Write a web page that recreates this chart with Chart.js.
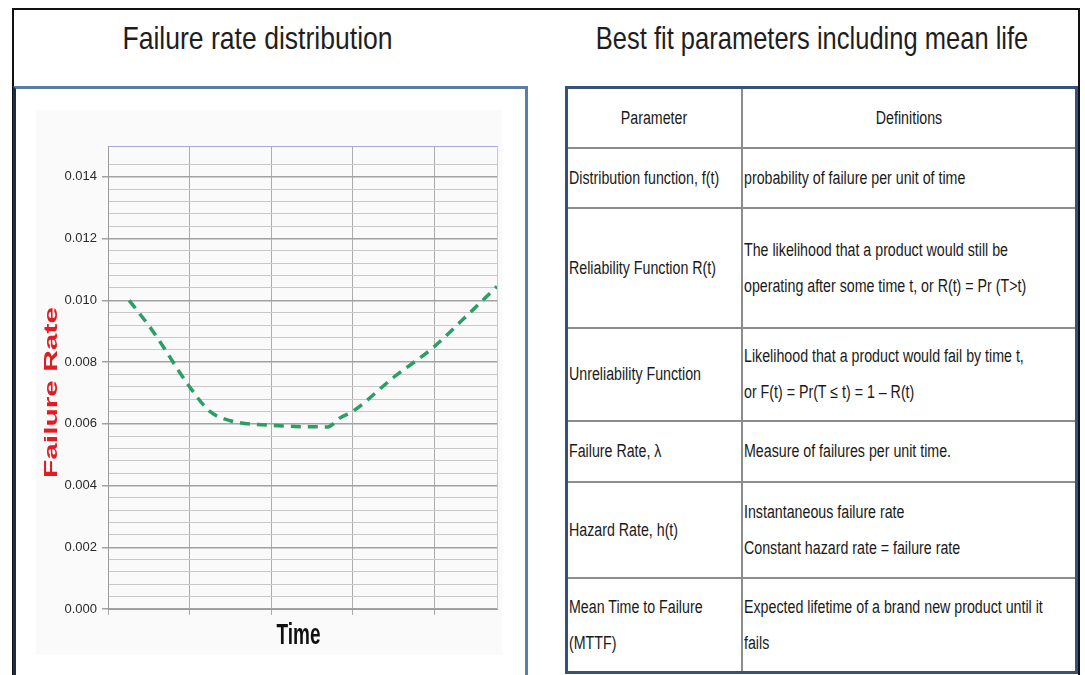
<!DOCTYPE html>
<html>
<head>
<meta charset="utf-8">
<script src="https://cdn.jsdelivr.net/npm/chart.js@4.4.0/dist/chart.umd.min.js"></script>
<style>
  body { margin:0; width:1085px; height:675px; background:#fff; overflow:hidden; position:relative;
         font-family:"Liberation Sans", Arial, sans-serif; color:#1e1e1e; }
  #frame { position:absolute; left:12px; top:8px; width:1064px; height:700px; border:2px solid #111; }
  .title { position:absolute; top:22px; font-size:32px; line-height:32px; text-align:center; white-space:nowrap;
           transform:scaleX(0.83); transform-origin:50% 50%; }
  #leftTitle { left:0px; width:515px; }
  #rightTitle { left:547px; width:513px; font-size:31.5px; transform:scaleX(0.81); }
  #chartPanel { position:absolute; left:13px; top:86px; width:509px; height:620px;
                border-top:3px solid #5b7ea6; border-right:3px solid #5b7ea6; border-left:3px solid #1d2b4c; }
  #chartBox { position:absolute; left:36px; top:110px; width:466px; height:545px; background:#fafafa; }
  #defs { position:absolute; left:565px; top:86px; width:513px; border-collapse:collapse; table-layout:fixed;
          border:3px solid #35537a; background:#fff; font-size:18px; }
  #defs td, #defs th { border:2px solid #8c8c8c; padding:0 1px; vertical-align:middle;
                       text-align:left; font-weight:normal; white-space:nowrap; overflow:visible; }
  #defs th { text-align:center; }
  #defs th:first-child { width:171px; }
  .n { display:inline-block; line-height:36px; transform:scaleX(0.79); transform-origin:0 50%; color:#1a1a1a; }
  #defs th .n { transform-origin:50% 50%; }
</style>
</head>
<body>
<div id="frame"></div>
<div class="title" id="leftTitle">Failure rate distribution</div>
<div class="title" id="rightTitle">Best fit parameters including mean life</div>
<div id="chartPanel"></div>
<div id="chartBox"><canvas id="rateChart"></canvas></div>
<table id="defs"></table>

<script>
// curve (time in grid units, failure rate)
const times = [0.26, 0.55, 1.0, 1.25, 1.5, 2.0, 2.69, 2.85, 3.0, 3.5, 4.0, 4.36, 4.77];
const failureRates = [0.0100, 0.0090, 0.0072, 0.0064, 0.0061, 0.00595, 0.0059, 0.0062, 0.0064, 0.0075, 0.0085, 0.0094, 0.01045];
const rateTickLabels = ['0.000', '0.002', '0.004', '0.006', '0.008', '0.010', '0.012', '0.014'];
const timeGridLines = [0, 1, 2, 3, 4, 4.77];
const rateMax = 0.015;
const yTitle = 'Failure Rate';
const xTitle = 'Time';

// table text
const headers = ['Parameter', 'Definitions'];
const paramNames = [
    'Distribution function, f(t)',
    'Reliability Function R(t)',
    'Unreliability Function',
    'Failure Rate, λ',
    'Hazard Rate, h(t)',
    'Mean Time to Failure<br>(MTTF)'
];
const definitions = [
    'probability of failure per unit of time',
    'The likelihood that a product would still be<br>operating after some time t, or R(t) = Pr (T&gt;t)',
    'Likelihood that a product would fail by time t,<br>or F(t) = Pr(T ≤ t) = 1 – R(t)',
    'Measure of failures per unit time.',
    'Instantaneous failure rate<br>Constant hazard rate = failure rate',
    'Expected lifetime of a brand new product until it<br>fails'
];
const rowHeights = [60, 60, 120, 93, 61, 96, 95];

// build the table
const table = document.getElementById('defs');
const cell = (tag, txt) => '<' + tag + '><span class="n">' + txt + '</span></' + tag + '>';
let html = '<tr style="height:' + rowHeights[0] + 'px">' + cell('th', headers[0]) + cell('th', headers[1]) + '</tr>';
for (let i = 0; i < paramNames.length; i++) {
    html += '<tr style="height:' + rowHeights[i + 1] + 'px">' + cell('td', paramNames[i]) + cell('td', definitions[i]) + '</tr>';
}
table.innerHTML = html;

function isMajor(v) {
    return Math.round(v * 10000) % 20 === 0;
}

// axis titles in the picture are stretched, so draw them scaled to fit
const axisTitles = {
    id: 'axisTitles',
    afterDraw(chart) {
        const {ctx, chartArea} = chart;
        ctx.save();
        ctx.font = 'bold 19px "Liberation Sans", Arial, sans-serif';
        let w = ctx.measureText(yTitle).width;
        ctx.translate(chartArea.left - 56, (chartArea.top + chartArea.bottom) / 2 + 15);
        ctx.rotate(-Math.PI / 2);
        ctx.scale(171 / w, 1);
        ctx.fillStyle = '#e31b22';
        ctx.textAlign = 'center';
        ctx.textBaseline = 'middle';
        ctx.fillText(yTitle, 0, 0);
        ctx.restore();

        ctx.save();
        ctx.font = 'bold 30px "Liberation Sans", Arial, sans-serif';
        w = ctx.measureText(xTitle).width;
        ctx.translate((chartArea.left + chartArea.right) / 2 - 4, chartArea.bottom + 27);
        ctx.scale(44 / w, 1);
        ctx.fillStyle = '#111';
        ctx.textAlign = 'center';
        ctx.textBaseline = 'middle';
        ctx.fillText(xTitle, 0, 0);
        ctx.restore();
    }
};

const rateChart = new Chart(document.getElementById('rateChart'), {
    type: 'line',
    data: {
        datasets: [{
            label: yTitle,
            data: times.map((t, i) => ({x: t, y: failureRates[i]})),
            borderColor: '#2b9e64',
            borderWidth: 3.5,
            borderDash: [10, 7],
            pointRadius: 0,
            cubicInterpolationMode: 'monotone',
            fill: false
        }]
    },
    options: {
        responsive: true,
        maintainAspectRatio: false,
        animation: false,
        layout: { padding: { top: 36, right: 5, left: 0, bottom: 0 } },
        plugins: {
            legend: { display: false },
            tooltip: { enabled: false }
        },
        scales: {
            x: {
                type: 'linear',
                min: 0,
                max: timeGridLines[timeGridLines.length - 1],
                afterBuildTicks: s => { s.ticks = timeGridLines.map(v => ({value: v})); },
                afterFit: s => { s.height = 46; },
                ticks: { callback: () => '', padding: 0, autoSkip: false },
                border: { color: '#9a9a9a', width: 1 },
                grid: {
                    tickLength: 6,
                    color: c => c.tick && c.tick.value === timeGridLines[timeGridLines.length - 1] ? '#c4c4e6' : '#acacac',
                    tickColor: c => c.tick && c.tick.value === timeGridLines[timeGridLines.length - 1] ? 'rgba(0,0,0,0)' : '#acacac'
                }
            },
            y: {
                min: 0,
                max: rateMax,
                afterFit: s => { s.width = 72; },
                ticks: {
                    stepSize: 0.0004,
                    autoSkip: false,
                    padding: 5,
                    color: '#2a2a2a',
                    font: { family: '"Liberation Sans", Arial, sans-serif', size: 13 },
                    callback: v => isMajor(v) && v < rateMax ? rateTickLabels[Math.round(v / 0.002)] : ''
                },
                border: { color: '#9a9a9a', width: 1 },
                grid: {
                    tickLength: 6,
                    color: c => {
                        if (!c.tick) return '#c6c6c6';
                        if (c.tick.value >= rateMax) return '#a9a9e2';
                        return isMajor(c.tick.value) ? '#a2a2a2' : '#c8c8c8';
                    },
                    lineWidth: c => c.tick && isMajor(c.tick.value) && c.tick.value < rateMax ? 1.5 : 1,
                    tickColor: c => c.tick && isMajor(c.tick.value) && c.tick.value < rateMax ? '#a2a2a2' : 'rgba(0,0,0,0)'
                }
            }
        }
    },
    plugins: [axisTitles]
});
</script>
</body>
</html>
